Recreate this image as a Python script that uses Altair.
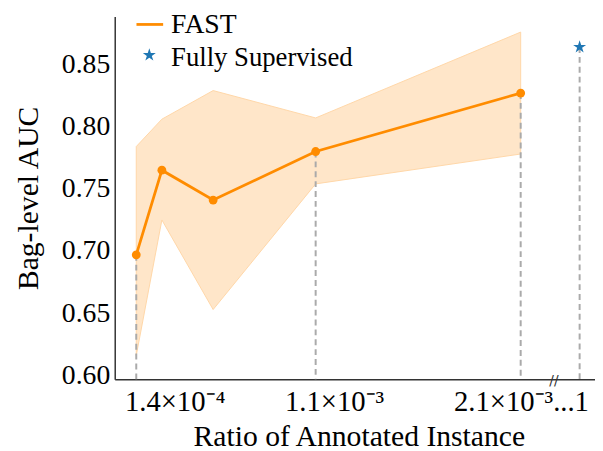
import altair as alt
import pandas as pd

# ---- data ----
x_vals = [1, 2, 4, 8, 16]              # relative annotation ratio (position index)
auc = [0.697, 0.765, 0.741, 0.780, 0.827]
upper = [0.784, 0.806, 0.829, 0.807, 0.876]
lower = [0.616, 0.725, 0.653, 0.754, 0.778]
full_x = [18.3]
full_auc = [0.864]

dash_idx = [0, 3, 4]                   # FAST points with a dashed drop line
tick_pos = [2.52, 8.74, 16.03]
tick_labels = ["1.4×10⁻⁴", "1.1×10⁻³", "2.1×10⁻³...1"]
legend_labels = ["FAST", "Fully Supervised"]

ORANGE = "#ff8c00"
BLUE = "#1f77b4"
FONT = "Liberation Serif"
STAR = ("M0,-1L0.225,-0.309L0.951,-0.309L0.363,0.118L0.588,0.809L0,0.382"
        "L-0.588,0.809L-0.363,0.118L-0.951,-0.309L-0.225,-0.309Z")

W, H = 486, 367
XDOM = [0.16, 18.9]
YDOM = [0.597, 0.8885]

df = pd.DataFrame({"x": x_vals, "auc": auc, "upper": upper, "lower": lower})
dash_df = pd.DataFrame({
    "x": [x_vals[i] for i in dash_idx] + full_x,
    "auc": [auc[i] for i in dash_idx] + full_auc,
})
full_df = pd.DataFrame({"x": full_x, "auc": full_auc})
tick_df = pd.DataFrame({"x": tick_pos, "label": tick_labels})

xs = alt.Scale(domain=XDOM, nice=False, zero=False)
ys = alt.Scale(domain=YDOM, nice=False, zero=False)

xaxis = alt.Axis(labels=False, ticks=False, grid=False, domainColor="#333333",
                 domainWidth=1.5, title="Ratio of Annotated Instance", orient="bottom",
                 titleFont=FONT, titleFontSize=30, titleFontWeight="normal",
                 titleColor="black", titlePadding=43, titleX=247)
yaxis = alt.Axis(values=[0.60, 0.65, 0.70, 0.75, 0.80, 0.85], format=".2f", orient="left",
                 ticks=False, grid=False, domainColor="#333333", domainWidth=1.5,
                 labelFont=FONT, labelFontSize=28, labelColor="black",
                 labelPadding=5, title="Bag-level AUC", titleFont=FONT,
                 titleFontSize=30, titleFontWeight="normal", titleColor="black",
                 titlePadding=18)


def X():
    return alt.X("x:Q", scale=xs, axis=xaxis)


def Y(f="auc"):
    return alt.Y(f + ":Q", scale=ys, axis=yaxis)


band = alt.Chart(df).mark_area(color="#ffe6c9", stroke="#ffd6a8", strokeWidth=1).encode(
    x=X(), y=Y("lower"), y2="upper:Q")

drops = alt.Chart(dash_df).mark_rule(color="#aaaaaa", strokeWidth=2,
                                     strokeDash=[6, 4]).encode(
    x=X(), y=Y(), y2=alt.value(H))

line = alt.Chart(df).mark_line(color=ORANGE, strokeWidth=2.8).encode(x=X(), y=Y())
pts = alt.Chart(df).mark_point(filled=True, color=ORANGE, size=80, opacity=1).encode(
    x=X(), y=Y())
star = alt.Chart(full_df).mark_point(shape=STAR, filled=True, color=BLUE,
                                     size=190, opacity=1).encode(x=X(), y=Y())

ticks = alt.Chart(tick_df).mark_text(font=FONT, fontSize=29, color="black",
                                     align="center", baseline="middle").encode(
    x=X(), y=alt.value(H + 23), text="label:N")

brk = alt.Chart(pd.DataFrame({"x": [17.3], "t": ["//"]})).mark_text(
    font="DejaVu Sans", fontSize=14, color="#333333", align="center",
    baseline="middle").encode(x=X(), y=alt.value(H + 2), text="t:N")

leg_line = alt.Chart(pd.DataFrame({"label": legend_labels[:1]})).mark_rule(
    color=ORANGE, strokeWidth=2.8).encode(
    x=alt.value(22), x2=alt.value(49), y=alt.value(8))
leg_t1 = alt.Chart(pd.DataFrame({"label": legend_labels[:1]})).mark_text(
    font=FONT, fontSize=28, color="black", align="left", baseline="middle").encode(
    x=alt.value(57), y=alt.value(9), text="label:N")
leg_star = alt.Chart(pd.DataFrame({"label": legend_labels[1:]})).mark_point(
    shape=STAR, filled=True, color=BLUE, size=190, opacity=1).encode(
    x=alt.value(35), y=alt.value(39))
leg_t2 = alt.Chart(pd.DataFrame({"label": legend_labels[1:]})).mark_text(
    font=FONT, fontSize=27, color="black", align="left", baseline="middle").encode(
    x=alt.value(57), y=alt.value(42), text="label:N")

chart = alt.layer(band, drops, line, pts, star, ticks, brk,
                  leg_line, leg_t1, leg_star, leg_t2).properties(
    width=W, height=H,
    autosize=alt.AutoSizeParams(type="none"),
    padding={"left": 108, "top": 6, "right": 0, "bottom": 70},
).configure(background="white").configure_view(stroke=None)

chart.save("out.html", embed_options={"renderer": "svg", "actions": False})
